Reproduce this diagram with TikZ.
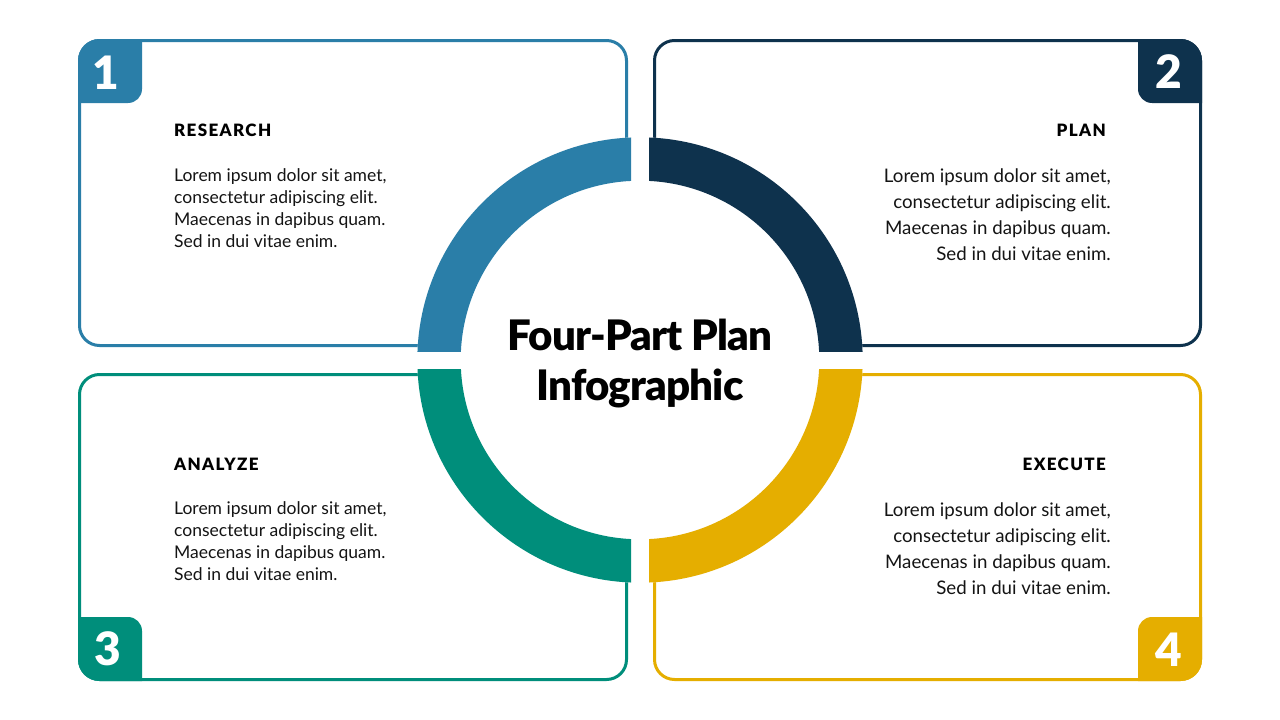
\documentclass[tikz,border=0pt]{standalone}
\usepackage{fontspec}
\setmainfont{Lato}
\newfontfamily\heavyfont{Lato Black}
\definecolor{cone}{RGB}{42,126,168}
\definecolor{ctwo}{RGB}{14,50,77}
\definecolor{cthree}{RGB}{0,142,123}
\definecolor{cfour}{RGB}{229,174,0}
\definecolor{bodygray}{RGB}{20,20,20}
\begin{document}
\begin{tikzpicture}[x=1pt,y=-1pt,
  boxline/.style={line width=3pt, rounded corners=20pt},
  numtxt/.style={text=white, font=\fontsize{46}{46}\selectfont\heavyfont, inner sep=0pt},
  headtxt/.style={font=\fontsize{17}{20}\selectfont\heavyfont\addfontfeature{LetterSpace=8}, inner sep=0pt, text=black},
  bodytxt/.style={inner sep=0pt, text=bodygray},
  titletxt/.style={font=\fontsize{42}{50}\selectfont\heavyfont\addfontfeature{LetterSpace=-2}, inner sep=0pt, text=black, align=center}]
\useasboundingbox (0,0) rectangle (1280,720);
\fill[white] (0,0) rectangle (1280,720);
% boxes
\draw[boxline, cone] (79.5,40.5) rectangle (626.5,345.5);
\draw[boxline, ctwo] (654.5,40.5) rectangle (1200.5,345.5);
\draw[boxline, cthree] (79.5,374.5) rectangle (626.5,679.5);
\draw[boxline, cfour] (654.5,374.5) rectangle (1200.5,679.5);
% tabs
\begin{scope}
  \clip[rounded corners=21.5pt] (78,39) rectangle (628,347);
  \fill[cone, rounded corners=14pt] (40,0) rectangle (142,103);
\end{scope}
\begin{scope}
  \clip[rounded corners=21.5pt] (653,39) rectangle (1202,347);
  \fill[ctwo, rounded corners=14pt] (1138,0) rectangle (1240,103);
\end{scope}
\begin{scope}
  \clip[rounded corners=21.5pt] (78,373) rectangle (628,681);
  \fill[cthree, rounded corners=14pt] (40,617) rectangle (142,720);
\end{scope}
\begin{scope}
  \clip[rounded corners=21.5pt] (653,373) rectangle (1202,681);
  \fill[cfour, rounded corners=14pt] (1138,617) rectangle (1240,720);
\end{scope}
\node[numtxt] (n1) at (106,73) {1};
\node[numtxt] (n2) at (1169,72) {2};
\node[numtxt] (n3) at (108,649) {3};
\node[numtxt] (n4) at (1169,650) {4};
% ring
\fill[white] (640,360) circle (222.7);
\begin{scope}
  \clip (0,0) rectangle (631,351);
  \fill[cone, even odd rule] (640,360) circle (222.7) (640,360) circle (179.3);
\end{scope}
\begin{scope}
  \clip (649,0) rectangle (1280,351);
  \fill[ctwo, even odd rule] (640,360) circle (222.7) (640,360) circle (179.3);
\end{scope}
\begin{scope}
  \clip (0,369) rectangle (631,720);
  \fill[cthree, even odd rule] (640,360) circle (222.7) (640,360) circle (179.3);
\end{scope}
\begin{scope}
  \clip (649,369) rectangle (1280,720);
  \fill[cfour, even odd rule] (640,360) circle (222.7) (640,360) circle (179.3);
\end{scope}
% title
\node[titletxt, anchor=base] (title1) at (640,350) {Four-Part Plan};
\node[titletxt, anchor=base] (title2) at (640,400) {Infographic};
% headings
\node[headtxt, anchor=base west] (h1) at (174,136) {RESEARCH};
\node[headtxt, anchor=base east] (h2) at (1106,136) {PLAN};
\node[headtxt, anchor=base west] (h3) at (174,470) {ANALYZE};
\node[headtxt, anchor=base east] (h4) at (1106,470) {EXECUTE};
% bodies
\node[bodytxt, anchor=base west] (b1) at (174,181) {\parbox[t]{300pt}{\fontsize{17.5}{22}\selectfont\raggedright
Lorem ipsum dolor sit amet,\\consectetur adipiscing elit.\\Maecenas in dapibus quam.\\Sed in dui vitae enim.}};
\node[bodytxt, anchor=base east] (b2) at (1111,182) {\parbox[t]{300pt}{\fontsize{18.7}{26}\selectfont\raggedleft
Lorem ipsum dolor sit amet,\\consectetur adipiscing elit.\\Maecenas in dapibus quam.\\Sed in dui vitae enim.}};
\node[bodytxt, anchor=base west] (b3) at (174,514) {\parbox[t]{300pt}{\fontsize{17.5}{22}\selectfont\raggedright
Lorem ipsum dolor sit amet,\\consectetur adipiscing elit.\\Maecenas in dapibus quam.\\Sed in dui vitae enim.}};
\node[bodytxt, anchor=base east] (b4) at (1111,516) {\parbox[t]{300pt}{\fontsize{18.7}{26}\selectfont\raggedleft
Lorem ipsum dolor sit amet,\\consectetur adipiscing elit.\\Maecenas in dapibus quam.\\Sed in dui vitae enim.}};
\end{tikzpicture}
\end{document}
